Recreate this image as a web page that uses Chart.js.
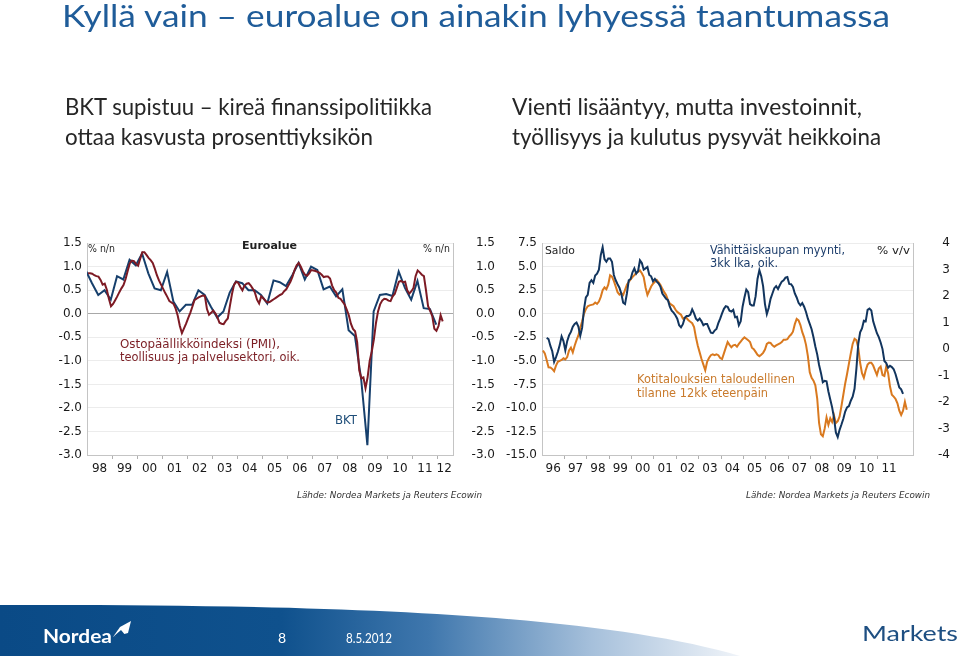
<!DOCTYPE html>
<html><head><meta charset="utf-8">
<script src="https://cdn.jsdelivr.net/npm/chart.js@4"></script>
<style>
html,body{margin:0;padding:0;background:#fff;}
body{width:960px;height:658px;position:relative;overflow:hidden;}
canvas{position:absolute;}
#c1{left:50px;top:230px;}
#c2{left:495px;top:230px;}
#ov{position:absolute;left:0;top:0;pointer-events:none;}
</style></head><body>
<canvas id="c1" width="445" height="255"></canvas>
<canvas id="c2" width="455" height="255"></canvas>
<svg id="ov" width="960" height="658" xmlns="http://www.w3.org/2000/svg">
  <defs>
    <linearGradient id="band" x1="0" y1="0" x2="740" y2="0" gradientUnits="userSpaceOnUse">
      <stop offset="0" stop-color="#0a4a86"/>
      <stop offset="0.38" stop-color="#0f518d"/>
      <stop offset="0.58" stop-color="#3f77ad"/>
      <stop offset="0.8" stop-color="#a6c0db"/>
      <stop offset="1" stop-color="#f0f4f9"/>
    </linearGradient>
  </defs>
  <text x="62" y="27" font-family="Lato" font-size="30" fill="#1f5c99" textLength="828" lengthAdjust="spacingAndGlyphs">Kyllä vain – euroalue on ainakin lyhyessä taantumassa</text>
  <g font-family="Lato" font-size="23" fill="#262626">
    <text x="65" y="115" textLength="367" lengthAdjust="spacingAndGlyphs">BKT supistuu – kireä finanssipolitiikka</text>
    <text x="65" y="145" textLength="308" lengthAdjust="spacingAndGlyphs">ottaa kasvusta prosenttiyksikön</text>
    <text x="512" y="115" textLength="350" lengthAdjust="spacingAndGlyphs">Vienti lisääntyy, mutta investoinnit,</text>
    <text x="512" y="145" textLength="369" lengthAdjust="spacingAndGlyphs">työllisyys ja kulutus pysyvät heikkoina</text>
  </g>
  <g font-family="DejaVu Sans" fill="#222">
    <text x="88" y="252" font-size="10" textLength="27" lengthAdjust="spacingAndGlyphs">% n/n</text>
    <text x="242" y="249" font-size="11" font-weight="bold" textLength="55" lengthAdjust="spacingAndGlyphs">Euroalue</text>
    <text x="423" y="252" font-size="10" textLength="27" lengthAdjust="spacingAndGlyphs">% n/n</text>
    <text x="545" y="254" font-size="11" textLength="30" lengthAdjust="spacingAndGlyphs">Saldo</text>
    <text x="877" y="254" font-size="11" textLength="33" lengthAdjust="spacingAndGlyphs">% v/v</text>
  </g>
  <g font-family="DejaVu Sans" font-size="12" fill="#7b1e24">
    <text x="120" y="348" textLength="160" lengthAdjust="spacingAndGlyphs">Ostopäällikköindeksi (PMI),</text>
    <text x="120" y="361" textLength="180" lengthAdjust="spacingAndGlyphs">teollisuus ja palvelusektori, oik.</text>
  </g>
  <text x="335" y="424" font-family="DejaVu Sans" font-size="12" fill="#1f4e79" textLength="22" lengthAdjust="spacingAndGlyphs">BKT</text>
  <g font-family="DejaVu Sans" font-size="12" fill="#1c3d6b">
    <text x="710" y="254" textLength="135" lengthAdjust="spacingAndGlyphs">Vähittäiskaupan myynti,</text>
    <text x="710" y="267" textLength="68" lengthAdjust="spacingAndGlyphs">3kk lka, oik.</text>
  </g>
  <g font-family="DejaVu Sans" font-size="12" fill="#c97a2c">
    <text x="637" y="383" textLength="158" lengthAdjust="spacingAndGlyphs">Kotitalouksien taloudellinen</text>
    <text x="637" y="397" textLength="131" lengthAdjust="spacingAndGlyphs">tilanne 12kk eteenpäin</text>
  </g>
  <g font-family="DejaVu Sans" font-size="9" font-style="italic" fill="#333">
    <text x="297" y="498" textLength="185" lengthAdjust="spacingAndGlyphs">Lähde: Nordea Markets ja Reuters Ecowin</text>
    <text x="746" y="498" textLength="184" lengthAdjust="spacingAndGlyphs">Lähde: Nordea Markets ja Reuters Ecowin</text>
  </g>
  <path d="M0,605 C350,604 600,615 740,656 L0,656 Z" fill="url(#band)"/>
  <text x="43" y="643" font-family="Lato" font-size="19" font-weight="bold" fill="#fff" textLength="69" lengthAdjust="spacingAndGlyphs">Nordea</text>
  <path d="M113,637 L120,627 L131,621 L128,633 Z" fill="#fff"/>
  <path d="M113,637 L121,630 L126,636 Z" fill="#0a4a86"/>
  <text x="278" y="643" font-family="Lato" font-size="14" fill="#fff">8</text>
  <text x="346" y="643" font-family="Lato" font-size="14" fill="#fff" textLength="46" lengthAdjust="spacingAndGlyphs">8.5.2012</text>
  <text x="862" y="641" font-family="Lato" font-size="22" fill="#1e4f82" textLength="96" lengthAdjust="spacingAndGlyphs">Markets</text>
</svg>
<script>
// ---------- Left chart data ----------
const leftYearLabels = ['98','99','00','01','02','03','04','05','06','07','08','09','10','11','12'];
const leftFirstYear = 1998;
const leftYTicks = [1.5, 1.0, 0.5, 0.0, -0.5, -1.0, -1.5, -2.0, -2.5, -3.0];
// PMI-based indicator, monthly from Jan 1998 (% q/q)
const pmiValues = [
 0.86,0.86,0.85,0.82,0.80,0.79,0.72,0.62,0.64,0.51,0.32,0.16,
 0.21,0.29,0.37,0.46,0.54,0.61,0.74,0.91,1.07,1.13,1.12,1.06,
 1.02,1.17,1.31,1.31,1.25,1.19,1.14,1.08,0.96,0.82,0.71,0.62,
 0.53,0.44,0.36,0.27,0.24,0.21,0.11,-0.04,-0.26,-0.41,-0.31,-0.21,
 -0.09,0.02,0.15,0.29,0.32,0.35,0.37,0.39,0.38,0.10,-0.02,0.02,
 0.07,0.01,-0.07,-0.19,-0.21,-0.22,-0.15,-0.10,0.17,0.42,0.62,0.68,
 0.66,0.57,0.50,0.60,0.64,0.65,0.60,0.53,0.45,0.30,0.22,0.37,
 0.33,0.28,0.24,0.25,0.28,0.31,0.34,0.37,0.40,0.42,0.48,0.52,
 0.60,0.68,0.79,0.93,1.03,1.08,1.00,0.90,0.83,0.81,0.86,0.93,
 0.92,0.91,0.89,0.87,0.83,0.78,0.79,0.79,0.75,0.60,0.50,0.45,
 0.34,0.32,0.26,0.20,0.09,-0.03,-0.21,-0.32,-0.37,-0.60,-1.20,-1.37,
 -1.35,-1.58,-1.35,-1.00,-0.80,-0.55,-0.20,0.05,0.20,0.28,0.32,0.31,
 0.28,0.27,0.37,0.42,0.55,0.68,0.70,0.67,0.68,0.50,0.43,0.48,
 0.55,0.80,0.92,0.88,0.83,0.80,0.50,0.16,0.06,-0.05,-0.32,-0.36,
 -0.26,-0.03,-0.16
];
// GDP (BKT) % q/q, quarterly from 1997 Q4
const bktFirstQuarter = 1997.75;
const bktValues = [
 0.92,
 0.65,0.40,0.50,0.30,
 0.80,0.73,1.15,1.03,
 1.28,0.86,0.54,0.50,
 0.89,0.26,0.05,0.19,
 0.19,0.50,0.40,0.15,
 -0.08,0.05,0.45,0.69,
 0.65,0.50,0.50,0.40,
 0.22,0.71,0.67,0.59,
 0.82,1.08,0.73,1.00,
 0.93,0.52,0.58,0.37,
 0.52,-0.35,-0.47,-1.38,
 -2.79,0.05,0.40,0.42,
 0.38,0.90,0.55,0.30,
 0.70,0.12,0.10,-0.23
];

// ---------- Right chart data ----------
const rightYearLabels = ['96','97','98','99','00','01','02','03','04','05','06','07','08','09','10','11'];
const rightFirstYear = 1996;
const saldoTicks = [7.5, 5.0, 2.5, 0.0, -2.5, -5.0, -7.5, -10.0, -12.5, -15.0];
const vvTicks = [4, 3, 2, 1, 0, -1, -2, -3, -4];
// Households' economic situation 12 months ahead (balance), monthly from Jan 1996
const kotitalousValues = [
 -3.9,-4.2,-4.9,-5.68,-5.7,-5.85,-6.1,-5.5,-5.1,-5.0,-4.9,-4.73,
 -4.85,-4.6,-3.9,-3.6,-4.1,-3.4,-2.8,-2.3,-1.5,-0.8,0.0,0.5,
 0.8,0.9,0.95,1.0,1.2,1.05,1.3,1.8,2.5,2.8,2.6,3.1,
 4.1,3.95,3.5,2.9,2.3,2.05,2.2,2.0,2.55,3.1,3.4,3.65,
 3.9,4.1,4.35,4.45,4.6,4.3,3.9,2.8,2.0,2.45,2.9,3.2,
 3.4,3.6,3.35,3.05,2.65,2.3,2.0,1.45,1.1,0.95,0.8,0.45,
 0.2,0.05,-0.1,-0.5,-0.45,-0.45,-0.7,-0.85,-1.0,-1.4,-2.5,-3.4,
 -4.1,-4.8,-5.4,-6.0,-5.1,-4.7,-4.4,-4.3,-4.4,-4.3,-4.4,-4.7,
 -4.8,-4.2,-3.6,-3.0,-3.3,-3.55,-3.35,-3.3,-3.5,-3.2,-2.95,-2.7,
 -2.5,-2.65,-2.8,-3.0,-3.6,-3.75,-4.05,-4.35,-4.5,-4.35,-4.15,-3.8,
 -3.2,-3.05,-3.1,-3.35,-3.5,-3.35,-3.25,-3.15,-3.0,-2.75,-2.75,-2.7,
 -2.4,-2.2,-1.9,-1.1,-0.55,-0.7,-1.2,-1.95,-2.5,-3.3,-4.5,-6.2,
 -6.8,-7.1,-7.6,-9.0,-11.6,-12.8,-13.0,-12.2,-11.0,-11.8,-11.1,-11.5,
 -10.8,-11.6,-11.4,-10.9,-9.8,-8.6,-7.4,-6.4,-5.3,-4.2,-3.2,-2.65,
 -2.8,-3.6,-5.2,-6.3,-6.8,-6.0,-5.4,-5.2,-5.2,-5.5,-6.0,-6.5,
 -5.8,-5.6,-6.5,-6.6,-5.6,-6.3,-7.7,-8.6,-8.8,-9.05,-9.5,-10.3,
 -10.75,-10.3,-9.35,-10.2
];
// Retail sales, 3m moving average, % y/y, monthly from Mar 1996
const retailFirstMonth = 2; // March
const retailValues = [
 0.42,0.38,0.12,-0.08,-0.48,-0.3,-0.1,0.15,0.48,0.3,
 -0.05,0.3,0.52,0.65,0.85,0.95,1.0,0.85,0.5,0.8,1.5,1.95,
 2.05,2.5,2.6,2.5,2.78,2.85,3.0,3.55,3.85,3.4,3.3,3.42,
 3.42,3.3,2.8,2.6,2.45,2.32,2.1,1.75,1.7,2.1,2.6,2.65,
 2.9,3.05,2.85,2.95,3.35,3.25,3.0,3.05,3.1,2.8,2.75,2.56,
 2.65,2.55,2.48,2.35,2.1,2.0,1.9,1.85,1.6,1.45,1.38,1.28,
 1.15,0.9,0.82,0.94,1.18,1.25,1.25,1.3,1.5,1.35,1.15,1.08,
 1.15,1.05,0.9,0.95,0.95,0.78,0.62,0.6,0.7,0.76,0.98,1.15,
 1.35,1.52,1.62,1.6,1.45,1.42,1.48,1.2,1.22,0.9,1.05,1.6,
 1.95,2.25,2.15,1.7,1.65,1.65,2.0,2.65,2.98,2.75,2.38,1.7,
 1.32,1.55,1.9,2.1,2.3,2.38,2.27,2.42,2.55,2.6,2.7,2.72,
 2.46,2.45,2.35,2.1,1.95,1.75,1.65,1.74,1.6,1.4,1.15,0.95,
 0.75,0.45,0.1,-0.2,-0.6,-0.9,-1.25,-1.2,-1.22,-1.6,-1.9,-2.2,
 -2.6,-3.15,-3.32,-3.05,-2.85,-2.63,-2.36,-2.2,-2.15,-1.95,-1.8,-1.5,
 -0.75,0.2,0.63,0.78,1.07,1.05,1.48,1.53,1.46,1.05,0.82,0.6,
 0.45,0.25,0.0,-0.45,-0.53,-0.7,-0.63,-0.68,-0.76,-0.95,-1.2,-1.45,
 -1.52,-1.69
];

// ---------- helpers ----------
const FONT = 'DejaVu Sans';
function monthly(values, firstYear, firstMonth) {
  return values.map((v, i) => ({x: firstYear + (firstMonth + i + 0.5) / 12, y: v}));
}
function quarterly(values, firstQ) {
  return values.map((v, i) => ({x: firstQ + 0.25 * i + 0.2, y: v}));
}
function yearAxis(firstYear, labels, max, height) {
  const labelMap = new Map();
  const ticks = [];
  labels.forEach((lab, i) => {
    const yr = firstYear + i;
    if (i > 0) ticks.push({value: yr});
    const pos = Math.min(yr + 0.5, max - 0.35);
    labelMap.set(pos, lab);
    ticks.push({value: pos});
  });
  return {
    type: 'linear', position: 'bottom', min: firstYear, max: max,
    afterBuildTicks: s => { s.ticks = ticks.map(t => ({value: t.value})); },
    afterFit: s => { s.height = height; },
    grid: {
      drawOnChartArea: false, drawTicks: true, tickLength: 4,
      tickColor: c => (c.tick && labelMap.has(c.tick.value)) ? 'rgba(0,0,0,0)' : '#b0b0b0',
      color: '#b0b0b0'
    },
    border: {display: true, color: '#c4c4c4'},
    ticks: {
      autoSkip: false, maxRotation: 0, minRotation: 0, padding: 3,
      font: {family: FONT, size: 12}, color: '#1a1a1a',
      callback: v => labelMap.has(v) ? labelMap.get(v) : ''
    }
  };
}
function valueAxis(pos, tickValues, width, fmt, darkAt, showGrid, padding) {
  const mn = Math.min(...tickValues), mx = Math.max(...tickValues);
  return {
    type: 'linear', position: pos, min: mn, max: mx,
    afterBuildTicks: s => { s.ticks = tickValues.map(v => ({value: v})); },
    afterFit: s => { s.width = width; },
    grid: {
      display: showGrid, drawTicks: false,
      color: c => (c.tick && Math.abs(c.tick.value - darkAt) < 1e-9) ? '#a8a8a8' : '#ececec'
    },
    border: {display: true, color: '#c4c4c4'},
    ticks: {
      padding: padding, crossAlign: pos === 'right' ? 'far' : 'near',
      font: {family: FONT, size: 12}, color: '#1a1a1a',
      callback: fmt
    }
  };
}
const lineStyle = (color) => ({borderColor: color, backgroundColor: color, borderWidth: 2, pointRadius: 0, tension: 0, fill: false});

// ---------- Left chart ----------
new Chart(document.getElementById('c1'), {
  type: 'line',
  data: {datasets: [
    Object.assign({label: 'PMI', data: monthly(pmiValues, leftFirstYear, 0), yAxisID: 'y2'}, lineStyle('#7d1a24')),
    Object.assign({label: 'BKT', data: quarterly(bktValues, bktFirstQuarter), yAxisID: 'y'}, lineStyle('#163f6c'))
  ]},
  options: {
    responsive: false, animation: false, devicePixelRatio: 1,
    layout: {padding: {top: 12, left: 0, right: 0, bottom: 0}},
    plugins: {legend: {display: false}, tooltip: {enabled: false}},
    scales: {
      x: yearAxis(leftFirstYear, leftYearLabels, 2012.62, 30),
      y: valueAxis('left', leftYTicks, 37, v => v.toFixed(1), 0, true, 5),
      y2: valueAxis('right', leftYTicks, 42, v => v.toFixed(1), 0, false, 6)
    }
  }
});

// ---------- Right chart ----------
new Chart(document.getElementById('c2'), {
  type: 'line',
  data: {datasets: [
    Object.assign({label: 'Retail', data: monthly(retailValues, rightFirstYear, retailFirstMonth), yAxisID: 'y2'}, lineStyle('#12355e')),
    Object.assign({label: 'Kotitaloudet', data: monthly(kotitalousValues, rightFirstYear, 0), yAxisID: 'y'}, lineStyle('#d9791f'))
  ]},
  options: {
    responsive: false, animation: false, devicePixelRatio: 1,
    layout: {padding: {top: 12, left: 0, right: 0, bottom: 0}},
    plugins: {legend: {display: false}, tooltip: {enabled: false}},
    scales: {
      x: yearAxis(rightFirstYear, rightYearLabels, 2012.57, 30),
      y: valueAxis('left', saldoTicks, 47, v => v.toFixed(1), -5, true, 5),
      y2: valueAxis('right', vvTicks, 37, v => String(Math.round(v)), 999, false, 6)
    }
  }
});
</script>
</body></html>
